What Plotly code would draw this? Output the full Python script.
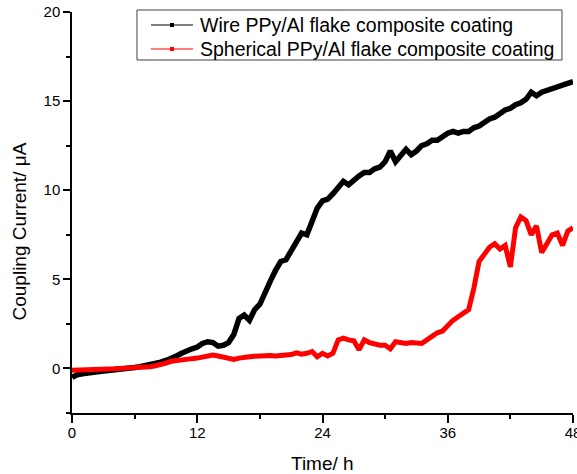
import plotly.graph_objects as go

# time (h)
time_h = [i * 0.5 for i in range(97)]

wire_current = [
    -0.5, -0.35, -0.3, -0.28, -0.22, -0.18, -0.15, -0.12, -0.1, -0.08,
    -0.05, 0.0, 0.05, 0.1, 0.15, 0.2, 0.28, 0.35, 0.45, 0.55,
    0.7, 0.85, 1.0, 1.1, 1.2, 1.4, 1.5, 1.45, 1.25, 1.3,
    1.45, 1.9, 2.8, 3.0, 2.7, 3.3, 3.6, 4.3, 4.9, 5.5,
    6.0, 6.1, 6.6, 7.1, 7.6, 7.5, 8.3, 9.0, 9.4, 9.5,
    9.8, 10.1, 10.5, 10.3, 10.6, 10.8, 11.0, 11.0, 11.2, 11.3,
    11.6, 12.2, 11.6, 11.9, 12.3, 12.0, 12.2, 12.5, 12.6, 12.8,
    12.8, 13.0, 13.2, 13.3, 13.2, 13.3, 13.3, 13.5, 13.6, 13.8,
    14.0, 14.1, 14.3, 14.5, 14.6, 14.8, 14.9, 15.1, 15.5, 15.3,
    15.5, 15.6, 15.7, 15.8, 15.9, 16.0, 16.1,
]

spherical_current = [
    -0.1, -0.1, -0.08, -0.08, -0.06, -0.05, -0.04, -0.03, -0.02, -0.01,
    0.0, 0.0, 0.02, 0.05, 0.08, 0.1, 0.15, 0.2, 0.3, 0.4,
    0.45, 0.48, 0.5, 0.55, 0.58, 0.62, 0.65, 0.75, 0.7, 0.62,
    0.55, 0.5, 0.58, 0.65, 0.66, 0.68, 0.7, 0.75, 0.72, 0.7,
    0.72, 0.7, 0.78, 0.88, 0.8, 0.85, 0.95, 0.65, 0.85, 0.7,
    0.85, 1.6, 1.7, 1.6, 1.55, 1.05, 1.6, 1.45, 1.35, 1.3,
    1.3, 1.1, 1.5, 1.45, 1.4, 1.45, 1.4, 1.4, 1.6, 1.8,
    2.0, 2.1, 2.4, 2.7, 2.9, 3.1, 3.3, 4.5, 6.0, 6.4,
    6.8, 7.0, 6.7, 6.9, 5.7, 7.9, 8.5, 8.3, 7.5, 8.0,
    6.5, 7.0, 7.5, 7.6, 6.9, 7.7, 7.9,
]

series_names = ["Wire PPy/Al flake composite coating",
                "Spherical PPy/Al flake composite coating"]
series_colors = ["black", "red"]
x_ticks = [0, 12, 24, 36, 48]
y_ticks = [0, 5, 10, 15, 20]

FONT = "Arial, 'Liberation Sans', sans-serif"

fig = go.Figure()
fig.add_trace(go.Scatter(x=time_h, y=wire_current, mode="lines", name=series_names[0],
                         line=dict(color=series_colors[0], width=5.5), showlegend=False))
fig.add_trace(go.Scatter(x=time_h, y=spherical_current, mode="lines", name=series_names[1],
                         line=dict(color=series_colors[1], width=5), showlegend=False))

axis_common = dict(showline=True, linecolor="black", linewidth=1.5, showgrid=False,
                   zeroline=False, ticks="outside", tickcolor="black", tickwidth=1.5,
                   automargin=False,
                   tickfont=dict(family=FONT, size=15, color="black"))

fig.update_xaxes(range=[0, 48], tickvals=x_ticks, ticklen=8, ticklabeloverflow="allow",
                 ticklabelstandoff=-3,
                 minor=dict(dtick=6, tick0=0, ticklen=4, ticks="outside", tickcolor="black", tickwidth=1.5),
                 **axis_common)
fig.update_yaxes(range=[-2.5, 20], tickvals=y_ticks, ticklen=7,
                 minor=dict(dtick=2.5, tick0=-2.5, ticklen=4, ticks="outside", tickcolor="black", tickwidth=1.5),
                 **axis_common)

fig.add_annotation(text="Time/ h", xref="paper", yref="paper", x=0.5, y=-0.1247,
                   xanchor="center", yanchor="middle", showarrow=False,
                   font=dict(family=FONT, size=19, color="black"))
fig.add_annotation(text="Coupling Current/ μA", xref="paper", yref="paper",
                   x=-0.1038, y=0.4526, xanchor="center", yanchor="middle",
                   textangle=-90, showarrow=False,
                   font=dict(family=FONT, size=19, color="black"))

# hand-drawn legend box (paper coordinates)
fig.add_shape(type="rect", xref="paper", yref="paper", x0=0.1297, x1=0.978, y0=0.8803, y1=1.005,
              line=dict(color="#404040", width=1), fillcolor="white", layer="above")
legend_rows_y = [0.9676, 0.9077]
for name, color, yy in zip(series_names, series_colors, legend_rows_y):
    fig.add_shape(type="line", xref="paper", yref="paper", x0=0.1577, x1=0.2415, y0=yy, y1=yy,
                  line=dict(color=color, width=1.2), layer="above")
    fig.add_shape(type="rect", xref="paper", yref="paper", x0=0.1956, x1=0.2036,
                  y0=yy - 0.005, y1=yy + 0.005, line=dict(width=0), fillcolor=color, layer="above")
    fig.add_annotation(text=name, xref="paper", yref="paper", x=0.2515, y=yy,
                       xanchor="left", yanchor="middle", showarrow=False,
                       font=dict(family=FONT, size=19.5, color="black"))

fig.update_layout(
    width=577, height=474,
    margin=dict(l=72, r=4, t=12, b=61, autoexpand=False),
    plot_bgcolor="white", paper_bgcolor="white",
    showlegend=False,
)

fig.write_html("out.html")
